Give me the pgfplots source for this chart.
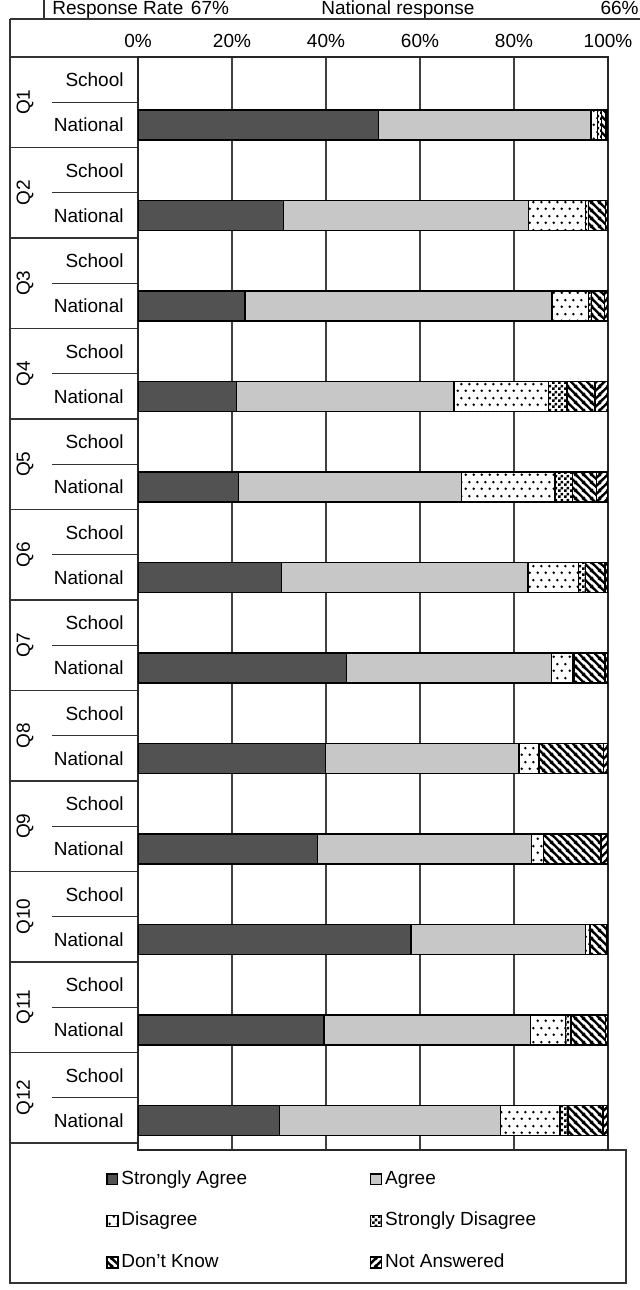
\documentclass[border=0pt]{standalone}
\usepackage{fontspec}
\setmainfont{Liberation Sans}
\usepackage{pgfplots}
\pgfplotsset{compat=1.18}
\usepackage{pgfplotstable}
\usetikzlibrary{patterns}

\pgfdeclarepatternformonly{sparsedots}{\pgfqpoint{0pt}{0pt}}{\pgfqpoint{4pt}{7pt}}{\pgfqpoint{4pt}{7pt}}{%
  \pgfpathcircle{\pgfqpoint{1pt}{1.75pt}}{0.75pt}%
  \pgfpathcircle{\pgfqpoint{3pt}{5.25pt}}{0.75pt}%
  \pgfusepath{fill}}
\pgfdeclarepatternformonly{checker}{\pgfqpoint{0pt}{0pt}}{\pgfqpoint{3pt}{3pt}}{\pgfqpoint{3pt}{3pt}}{%
  \pgfpathrectangle{\pgfqpoint{0pt}{0pt}}{\pgfqpoint{1.5pt}{1.5pt}}%
  \pgfpathrectangle{\pgfqpoint{1.5pt}{1.5pt}}{\pgfqpoint{1.5pt}{1.5pt}}%
  \pgfusepath{fill}}
\pgfdeclarepatternformonly{thicknw}{\pgfqpoint{0pt}{0pt}}{\pgfqpoint{4pt}{4pt}}{\pgfqpoint{4pt}{4pt}}{%
  \pgfsetlinewidth{1.3pt}%
  \pgfpathmoveto{\pgfqpoint{-0.5pt}{4.5pt}}\pgfpathlineto{\pgfqpoint{4.5pt}{-0.5pt}}%
  \pgfpathmoveto{\pgfqpoint{-0.5pt}{0.5pt}}\pgfpathlineto{\pgfqpoint{0.5pt}{-0.5pt}}%
  \pgfpathmoveto{\pgfqpoint{3.5pt}{4.5pt}}\pgfpathlineto{\pgfqpoint{4.5pt}{3.5pt}}%
  \pgfusepath{stroke}}
\pgfdeclarepatternformonly{thickne}{\pgfqpoint{0pt}{0pt}}{\pgfqpoint{4pt}{4pt}}{\pgfqpoint{4pt}{4pt}}{%
  \pgfsetlinewidth{1.3pt}%
  \pgfpathmoveto{\pgfqpoint{-0.5pt}{-0.5pt}}\pgfpathlineto{\pgfqpoint{4.5pt}{4.5pt}}%
  \pgfpathmoveto{\pgfqpoint{-0.5pt}{3.5pt}}\pgfpathlineto{\pgfqpoint{0.5pt}{4.5pt}}%
  \pgfpathmoveto{\pgfqpoint{3.5pt}{-0.5pt}}\pgfpathlineto{\pgfqpoint{4.5pt}{0.5pt}}%
  \pgfusepath{stroke}}

\pgfplotstableread{
y    SA   A    D    SD   DK   NA
1.5  51.2 45.2 1.4  0.8  1.0  0.4
3.5  30.9 52.2 12.1 0.6  3.7  0.5
5.5  22.8 65.3 7.8  0.6  2.8  0.7
7.5  20.9 46.3 20.2 3.9  5.9  2.8
9.5  21.4 47.4 19.9 3.8  5.1  2.4
11.5 30.5 52.5 10.7 1.5  4.2  0.6
13.5 44.3 43.7 4.5  0.3  6.6  0.6
15.5 39.9 41.2 4.2  0.0  13.7 1.0
17.5 38.2 45.5 2.6  0.0  12.2 1.5
19.5 58.1 37.1 1.0  0.0  3.6  0.2
21.5 39.6 43.9 7.5  1.1  7.4  0.5
23.5 30.1 47.0 12.7 1.7  7.4  1.1
}\natdata

\newcommand{\lf}{\fontsize{9.5}{11}\selectfont}

\begin{document}
\begin{tikzpicture}
\begin{scope}[x=0.5pt,y=-0.5pt]
\useasboundingbox (0,0) rectangle (640,1290);
% header row
\node[anchor=base west,font=\lf,inner sep=0pt] at (52,14.5) {Response Rate};
\node[anchor=base,font=\lf,inner sep=0pt] at (210,14.5) {67\%};
\node[anchor=base,font=\lf,inner sep=0pt] at (398,14.5) {National response};
\node[anchor=base east,font=\lf,inner sep=0pt] at (639,14.5) {66\%};
\draw[black!80,line width=0.6pt] (44,0) -- (44,19);
\draw[black!80,line width=0.6pt] (10,19) -- (640,19);
% outer frame
\draw[black!80,line width=0.6pt] (10,19) -- (10,1283) -- (626,1283) -- (626,1150) -- (608,1150);
\draw[black!80,line width=0.6pt] (10,57) -- (138,57);
% row labels
\foreach \i in {1,...,12}{
  \pgfmathsetmacro{\top}{57+90.5*(\i-1)}
  \draw[black!80,line width=0.6pt] (10,\top+90.5) -- (138,\top+90.5);
  \draw[black!80,line width=0.6pt] (52,\top+45.25) -- (138,\top+45.25);
  \node[rotate=90,font=\lf,inner sep=0pt] at (25,\top+45.25) {Q\i};
  \node[anchor=east,font=\lf,inner sep=0pt] at (124,\top+23) {School};
  \node[anchor=east,font=\lf,inner sep=0pt] at (124,\top+68) {National};
}
\end{scope}
\begin{axis}[
  at={(69pt,-28.5pt)}, anchor=north west,
  scale only axis, width=235pt, height=546.5pt,
  xbar stacked, bar width=15pt,
  xmin=0, xmax=100, ymin=0, ymax=24.155, y dir=reverse,
  xtick={0,20,40,60,80,100},
  xticklabels={0\%,20\%,40\%,60\%,80\%,100\%},
  xticklabel pos=upper, major tick length=0pt,
  ytick=\empty,
  xmajorgrids, grid style={black!75, line width=0.6pt},
  axis line style={black!85, line width=0.7pt},
  tick label style={font=\lf, yshift=1pt},
  every axis plot/.append style={draw=black, line width=0.7pt},
  legend columns=2,
  legend image code/.code={\draw[#1,draw=black,line width=0.6pt] (0pt,-2.7pt) rectangle (5.4pt,2.7pt);},
  legend style={at={(axis description cs:-0.068,-0.0156)}, anchor=north west,
    draw=none, fill=none, inner sep=0pt, row sep=8.75pt, font=\lf,
    cells={anchor=west},
    nodes={inner sep=1.5pt, text height=7pt, text depth=2pt},
    /tikz/every even column/.append style={column sep=60pt}},
]
\addplot[fill=black!68] table[x=SA,y=y] {\natdata};
\addlegendentry{Strongly Agree}
\addplot[fill=black!22] table[x=A,y=y] {\natdata};
\addlegendentry{Agree}
\addplot[preaction={fill=white}, pattern=sparsedots] table[x=D,y=y] {\natdata};
\addlegendentry{Disagree}
\addplot[preaction={fill=white}, pattern=checker] table[x=SD,y=y] {\natdata};
\addlegendentry{Strongly Disagree}
\addplot[preaction={fill=white}, pattern=thicknw] table[x=DK,y=y] {\natdata};
\addlegendentry{Don't Know}
\addplot[preaction={fill=white}, pattern=thickne] table[x=NA,y=y] {\natdata};
\addlegendentry{Not Answered}
\end{axis}
\end{tikzpicture}
\end{document}
